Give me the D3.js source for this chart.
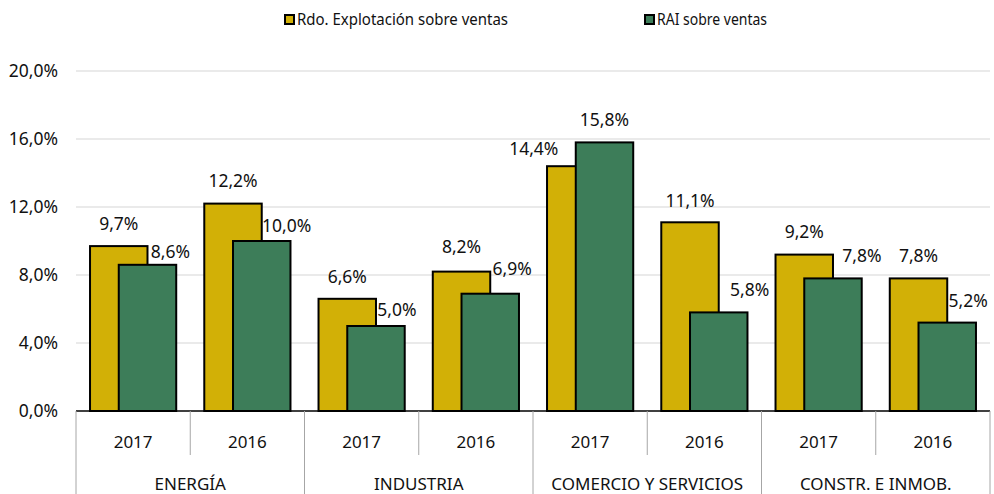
<!DOCTYPE html>
<html>
<head>
<meta charset="utf-8">
<script src="https://cdn.jsdelivr.net/npm/d3@7"></script>
<style>
  body { margin: 0; background: #fff; }
  svg { display: block; }
  text { font-family: "Noto Sans", "Open Sans", sans-serif; fill: #111; }
</style>
</head>
<body>
<svg id="chart" width="994" height="494"></svg>
<script>
// data
const sectors = ["ENERGÍA", "INDUSTRIA", "COMERCIO Y SERVICIOS", "CONSTR. E INMOB."];
const years = ["2017", "2016"];
const rdoVentas = [9.7, 12.2, 6.6, 8.2, 14.4, 11.1, 9.2, 7.8];
const raiVentas = [8.6, 10.0, 5.0, 6.9, 15.8, 5.8, 7.8, 5.2];
const yTicks = [0, 4, 8, 12, 16, 20];
const seriesNames = ["Rdo. Explotación sobre ventas", "RAI sobre ventas"];

// label nudges (the original labels were moved by hand)
const rdoLabelDx = [0, 0, 0, 0, -42, 0, 0, 0];
const rdoLabelGap = [16, 17, 16, 19, 11, 15, 17, 16];
const raiLabelDx = [23, 25, 21, 22, 0, 31, 29, 21];
const raiLabelGap = [7, 9, 10, 19, 16, 16, 16, 16];

const COL_RDO = "#d2b006";
const COL_RAI = "#3d7d59";

var svg = d3.select("#chart");
var plotL = 76, plotR = 990, plotT = 71, base = 411;

// one slot per sector/year pair
var slots = [];
sectors.forEach(function(s, i){
    years.forEach(function(yr, j){ slots.push({sector: s, year: yr, key: i*2+j}); });
});

var x = d3.scaleBand().domain(slots.map(d => d.key)).range([plotL, plotR]).padding(0);
var y = d3.scaleLinear().domain([0, 20]).range([base, plotT]);

var slotW = x.bandwidth();
var barW = slotW * 0.503;
var clusterW = barW * 1.5;
var off0 = (slotW - clusterW) / 2;

// gridlines
svg.append("g").selectAll("line").data(yTicks.filter(d => d > 0)).join("line")
    .attr("x1", plotL).attr("x2", plotR)
    .attr("y1", d => y(d)).attr("y2", d => y(d))
    .attr("stroke", "#e3e3e3").attr("stroke-width", 1.3);

var fmt = function(v){ return v.toFixed(1).replace(".", ",") + "%"; };

// y tick labels
svg.append("g").selectAll("text").data(yTicks).join("text")
    .attr("x", 58).attr("y", d => y(d))
    .attr("dy", "0.35em")
    .attr("text-anchor", "end")
    .attr("font-size", 17.5)
    .text(fmt);

// bars: yellow behind, green overlapping half
svg.append("g").selectAll("rect").data(rdoVentas).join("rect")
    .attr("x", (d, i) => x(i) + off0)
    .attr("y", d => y(d))
    .attr("width", barW)
    .attr("height", d => base - y(d))
    .attr("fill", COL_RDO).attr("stroke", "#000").attr("stroke-width", 2);

svg.append("g").selectAll("rect").data(raiVentas).join("rect")
    .attr("x", (d, i) => x(i) + off0 + barW / 2)
    .attr("y", d => y(d))
    .attr("width", barW)
    .attr("height", d => base - y(d))
    .attr("fill", COL_RAI).attr("stroke", "#000").attr("stroke-width", 2);

svg.append("g").selectAll("text").data(rdoVentas).join("text")
    .attr("x", (d, i) => x(i) + off0 + barW / 2 + rdoLabelDx[i])
    .attr("y", (d, i) => y(d) - rdoLabelGap[i])
    .attr("text-anchor", "middle").attr("font-size", 17.5)
    .text(fmt);

svg.append("g").selectAll("text").data(raiVentas).join("text")
    .attr("x", (d, i) => x(i) + off0 + barW + raiLabelDx[i])
    .attr("y", (d, i) => y(d) - raiLabelGap[i])
    .attr("text-anchor", "middle").attr("font-size", 17.5)
    .text(fmt);

// x axis line
svg.append("line")
    .attr("x1", plotL).attr("x2", plotR)
    .attr("y1", base).attr("y2", base)
    .attr("stroke", "#000").attr("stroke-width", 1.5);

// slot separators: inner short, group ones full height
var seps = d3.range(slots.length + 1);
svg.append("g").selectAll("line").data(seps).join("line")
    .attr("x1", d => plotL + d * slotW).attr("x2", d => plotL + d * slotW)
    .attr("y1", base)
    .attr("y2", d => d % 2 == 0 ? 494 : 455)
    .attr("stroke", "#a6a6a6").attr("stroke-width", 1);

svg.append("g").selectAll("text").data(slots).join("text")
    .attr("x", d => x(d.key) + slotW / 2)
    .attr("y", 448)
    .attr("text-anchor", "middle").attr("font-size", 17)
    .text(d => d.year);

svg.append("g").selectAll("text").data(sectors).join("text")
    .attr("x", (d, i) => plotL + (i * 2 + 1) * slotW)
    .attr("y", 490)
    .attr("text-anchor", "middle").attr("font-size", 17)
    .text(d => d);

// legend
var legendX = [284, 644];
var legendW = [211, 110];
var lg = svg.append("g").selectAll("g").data(seriesNames).join("g")
    .attr("transform", (d, i) => "translate(" + legendX[i] + ",14)");
lg.append("rect")
    .attr("x", 1).attr("y", 1).attr("width", 9).attr("height", 9)
    .attr("fill", (d, i) => i == 0 ? COL_RDO : COL_RAI)
    .attr("stroke", "#000").attr("stroke-width", 2);
lg.append("text")
    .attr("x", 13).attr("y", 11)
    .attr("font-size", 16)
    .attr("textLength", (d, i) => legendW[i])
    .attr("lengthAdjust", "spacingAndGlyphs")
    .text(d => d);
</script>
</body>
</html>
